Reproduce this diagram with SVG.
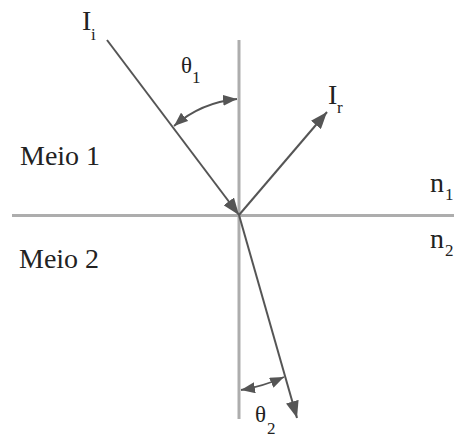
<svg xmlns="http://www.w3.org/2000/svg" width="454" height="437" viewBox="0 0 454 437">
<style>
.axis{stroke:#adadad;stroke-width:3;fill:none}
.ray{stroke:#555;stroke-width:2;fill:none}
.ang{stroke:#555;stroke-width:1.8;fill:none}
text{font-family:"Liberation Serif","DejaVu Serif",serif;fill:#222}
.lbl{font-size:28px}
.sub{font-size:17px}
.th{font-size:23px}
</style>
<defs>
<marker id="ah" viewBox="0 0 17 13" refX="17" refY="6.5" markerWidth="17" markerHeight="13" markerUnits="userSpaceOnUse" orient="auto">
<path d="M0,0 L17,6.5 L0,13 z" fill="#555"/>
</marker>
<marker id="sa" viewBox="0 0 14 11" refX="14" refY="5.5" markerWidth="14" markerHeight="11" markerUnits="userSpaceOnUse" orient="auto-start-reverse">
<path d="M0,0 L14,5.5 L0,11 z" fill="#555"/>
</marker>
</defs>
<g id="interface">
<line class="axis" x1="12" y1="215.5" x2="454" y2="215.5"/>
<line class="axis" x1="239" y1="40" x2="239" y2="419"/>
</g>
<g id="connectors">
<line id="incident" class="ray" x1="107" y1="40" x2="239" y2="215" marker-end="url(#ah)"/>
<line id="reflected" class="ray" x1="239" y1="215" x2="327" y2="112" marker-end="url(#ah)"/>
<line id="refracted" class="ray" x1="239" y1="215" x2="297" y2="418" marker-end="url(#ah)"/>
<path id="arc1" class="ang" d="M174,126 A113,113 0 0 1 237,99" marker-start="url(#sa)" marker-end="url(#sa)"/>
<path id="arc2" class="ang" d="M241,390 A172,172 0 0 0 284,377" marker-start="url(#sa)" marker-end="url(#sa)"/>
</g>
<g font-family="Liberation Serif, serif">
<g id="label-Ii"><text class="lbl" x="82" y="30">I</text><text class="sub" x="91" y="40">i</text></g>
<g id="label-Ir"><text class="lbl" x="328" y="104">I</text><text class="sub" x="337" y="113">r</text></g>
<g id="label-theta1"><text class="th" x="181" y="73">θ</text><text class="sub" x="192" y="83">1</text></g>
<g id="label-theta2"><text class="th" x="255" y="422">θ</text><text class="sub" x="267" y="434">2</text></g>
<g id="label-meio1"><text class="lbl" x="20" y="165">Meio 1</text></g>
<g id="label-meio2"><text class="lbl" x="19" y="268">Meio 2</text></g>
<g id="label-n1"><text class="lbl" x="430" y="192">n</text><text class="sub" x="445" y="200">1</text></g>
<g id="label-n2"><text class="lbl" x="430" y="248">n</text><text class="sub" x="445" y="256">2</text></g>
</g>
</svg>
